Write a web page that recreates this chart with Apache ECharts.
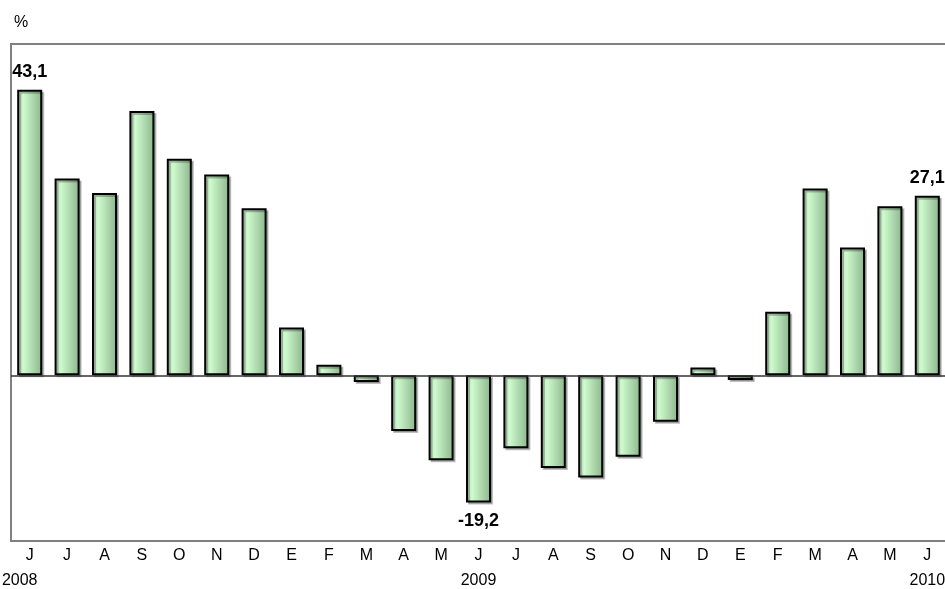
<!DOCTYPE html>
<html><head><meta charset="utf-8">
<script src="https://cdn.jsdelivr.net/npm/echarts@6/dist/echarts.min.js"></script>
<style>html,body{margin:0;padding:0;background:#fff}#c{width:945px;height:589px}</style>
</head><body><div id="c"></div>
<script>
const months = ['J','J','A','S','O','N','D','E','F','M','A','M','J','J','A','S','O','N','D','E','F','M','A','M','J'];
const years = ['2008','','','','','','','','','','','','2009','','','','','','','','','','','','2010'];
const values = [43.1,29.7,27.5,39.9,32.7,30.3,25.2,7.2,1.6,-1.0,-8.4,-12.8,-19.2,-11.0,-14.0,-15.4,-12.3,-7.0,1.2,-0.7,9.6,28.2,19.3,25.5,27.1];
const labelled = [0,12,24];

const FF = '"Liberation Sans", Arial, sans-serif';
const chart = echarts.init(document.getElementById('c'), null, {renderer:'canvas'});
const barFill = new echarts.graphic.LinearGradient(0,0,1,0,[
  {offset:0,color:'#b4dcb4'},{offset:0.25,color:'#cdfbcd'},{offset:1,color:'#8db48d'}]);
chart.setOption({
  animation:false,
  textStyle:{fontFamily:FF},
  graphic:[{type:'text',left:14,top:15,style:{text:'%',font:'16px '+FF,fill:'#000'}}],
  grid:{left:11,top:44,width:935,height:497,outerBoundsMode:'none',containLabel:false,
    show:true,borderColor:'#808080',borderWidth:2,backgroundColor:'#fff'},
  xAxis:[{type:'category',data:months,position:'bottom',
    axisLine:{show:false},axisTick:{show:false},
    axisLabel:{interval:0,margin:7,fontSize:16,color:'#000',fontFamily:FF}},
   {type:'category',data:years,position:'bottom',offset:25,
    axisLine:{show:false},axisTick:{show:false},
    axisLabel:{interval:0,margin:7,fontSize:16,color:'#000',fontFamily:FF,
      formatter:(v,i)=> i===0 ? '{a|'+v+'}' : v,
      rich:{a:{fontSize:16,fontFamily:FF,padding:[0,20,0,0]}}}}],
  yAxis:{type:'value',min:-25,max:50,interval:25,
    axisLabel:{show:false},axisTick:{show:false},splitLine:{show:false},axisLine:{show:false}},
  series:[{type:'bar',xAxisIndex:0,barWidth:25,
    data:values.map((v,i)=>({value:v,label:{show:labelled.includes(i),
      position: v<0 ? 'bottom':'top',distance: 9,
      formatter:(p)=>String(p.value).replace('.',','),
      fontSize:18,fontWeight:'bold',color:'#000',fontFamily:FF}})),
    itemStyle:{color:barFill,borderColor:'#000',borderWidth:2,
      shadowColor:'rgba(0,0,0,0.25)',shadowOffsetX:2,shadowOffsetY:2,shadowBlur:0},
    markLine:{silent:true,symbol:'none',label:{show:false},
      lineStyle:{color:'#333',width:1.5,type:'solid'},data:[{yAxis:0}]},
    z:3}]
});
</script></body></html>
